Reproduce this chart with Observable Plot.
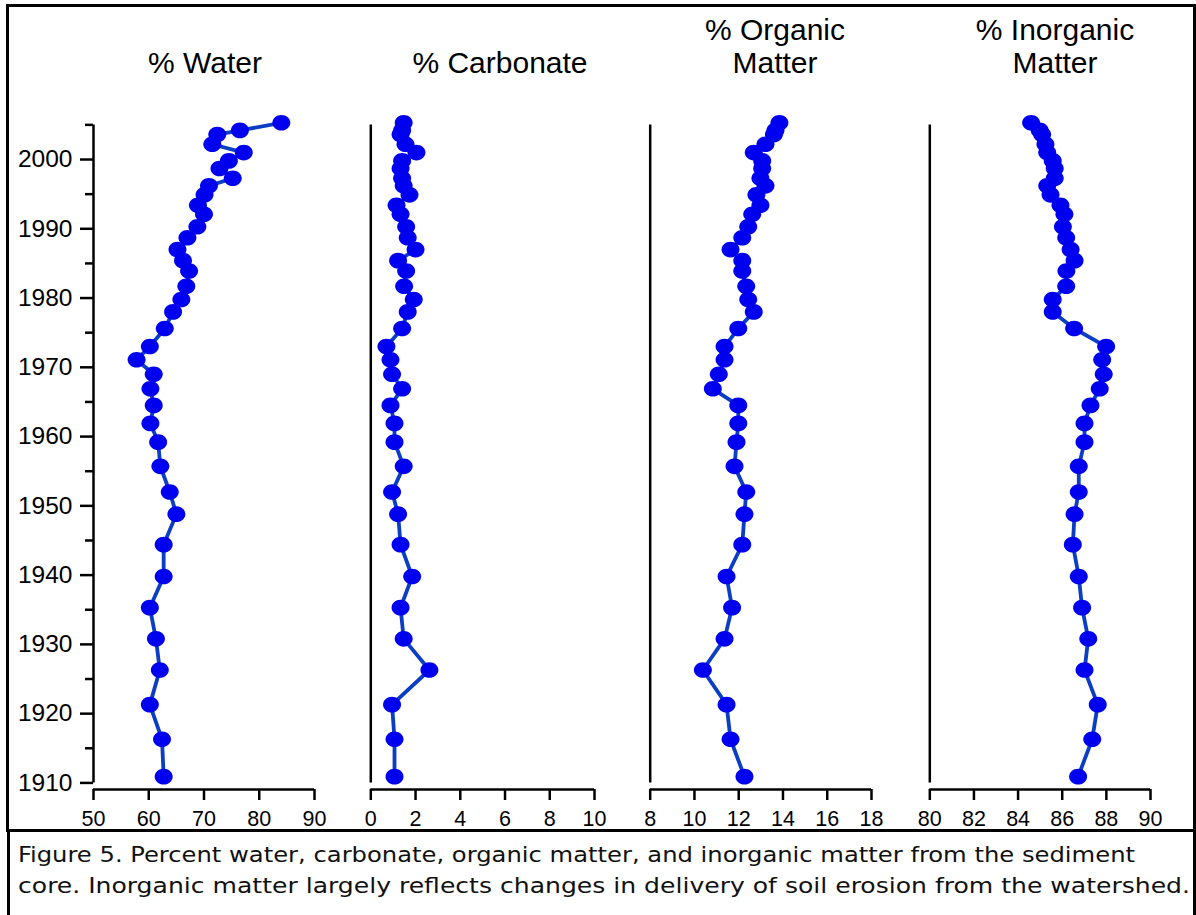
<!DOCTYPE html>
<html><head><meta charset="utf-8">
<script src="https://cdn.jsdelivr.net/npm/d3@7"></script>
<script src="https://cdn.jsdelivr.net/npm/@observablehq/plot@0.6"></script>
<style>
html,body{margin:0;padding:0;background:#fff;}
body{width:1196px;height:915px;overflow:hidden;position:relative;font-family:"Liberation Sans",Arial,sans-serif;}
.frame{position:absolute;border:3px solid #000;box-sizing:border-box;}
.title{position:absolute;font-size:30px;line-height:33px;text-align:center;color:#000;white-space:nowrap;transform:translateX(-50%);}
.panel{position:absolute;top:0;}
.panel svg{overflow:visible;}
</style></head><body>
<div class="frame" style="left:6px;top:4px;width:1190px;height:828px;"></div>
<div class="frame" style="left:7px;top:829px;width:1189px;height:110px;"></div>
<div id="root"></div>
<script>
// ---- data ----
const years = [2005.3, 2004.2, 2003.6, 2002.2, 2001.0, 1999.8, 1998.7, 1997.3, 1996.2, 1994.9,
  1993.4, 1992.1, 1990.3, 1988.7, 1987.0, 1985.4, 1983.9, 1981.7, 1979.8, 1978.0,
  1975.6, 1973.0, 1971.1, 1969.0, 1966.9, 1964.5, 1961.9, 1959.2, 1955.7, 1952.0,
  1948.8, 1944.4, 1939.8, 1935.3, 1930.8, 1926.3, 1921.3, 1916.3, 1910.9];
const water = [84.0, 76.5, 72.4, 71.5, 77.2, 74.5, 72.8, 75.2, 70.9, 70.1,
  68.9, 70.0, 68.8, 67.0, 65.2, 66.2, 67.3, 66.8, 65.9, 64.4,
  62.9, 60.2, 57.8, 60.9, 60.3, 60.9, 60.3, 61.7, 62.1, 63.8,
  65.0, 62.7, 62.7, 60.2, 61.3, 62.0, 60.2, 62.4, 62.7];
const carbonate = [1.47, 1.40, 1.33, 1.55, 2.04, 1.40, 1.33, 1.40, 1.47, 1.73,
  1.15, 1.33, 1.58, 1.65, 2.00, 1.22, 1.58, 1.49, 1.92, 1.65,
  1.40, 0.70, 0.88, 0.95, 1.40, 0.88, 1.06, 1.06, 1.47, 0.95,
  1.22, 1.33, 1.85, 1.33, 1.47, 2.62, 0.95, 1.06, 1.06];
const organic = [13.84, 13.66, 13.59, 13.21, 12.68, 13.06, 13.06, 12.98, 13.21, 12.80,
  12.98, 12.61, 12.43, 12.16, 11.63, 12.16, 12.16, 12.34, 12.43, 12.68,
  11.98, 11.36, 11.36, 11.10, 10.83, 11.98, 11.98, 11.90, 11.81, 12.34,
  12.26, 12.16, 11.45, 11.70, 11.36, 10.38, 11.45, 11.63, 12.26];
const inorganic = [84.59, 84.98, 85.09, 85.24, 85.32, 85.57, 85.66, 85.66, 85.32, 85.47,
  85.92, 86.10, 86.03, 86.18, 86.38, 86.56, 86.19, 86.18, 85.57, 85.57,
  86.54, 87.99, 87.81, 87.88, 87.70, 87.28, 87.01, 87.01, 86.75, 86.75,
  86.56, 86.48, 86.75, 86.90, 87.18, 87.01, 87.61, 87.36, 86.72];

const titles = [["% Water"], ["% Carbonate"], ["% Organic", "Matter"], ["% Inorganic", "Matter"]];
const xTicks = [[50, 60, 70, 80, 90], [0, 2, 4, 6, 8, 10], [8, 10, 12, 14, 16, 18], [80, 82, 84, 86, 88, 90]];
const yMajorTicks = [1910, 1920, 1930, 1940, 1950, 1960, 1970, 1980, 1990, 2000];
const yMinorTicks = [1915, 1925, 1935, 1945, 1955, 1965, 1975, 1985, 1995, 2005];
const yearRange = [1910, 2005];
const caption = [
  "Figure 5. Percent water, carbonate, organic matter, and inorganic matter from the sediment",
  "core. Inorganic matter largely reflects changes in delivery of soil erosion from the watershed."
];
const seriesValues = [water, carbonate, organic, inorganic];

// ---- layout ----
const layout = [
  {left: 0,   width: 330, marginLeft: 93,   marginRight: 16, titleX: 205, titleTop: [46]},
  {left: 340, width: 270, marginLeft: 30.3, marginRight: 16, titleX: 500, titleTop: [46]},
  {left: 620, width: 270, marginLeft: 29.7, marginRight: 19, titleX: 775, titleTop: [13, 46]},
  {left: 900, width: 280, marginLeft: 29.3, marginRight: 30, titleX: 1055, titleTop: [13, 46]}
];
const yDomain = [1909.05, 2005.2];
const H = 830;

const ellipse = {
  draw(ctx, size) {
    const r = Math.sqrt(size / Math.PI), rx = r * 1.07, ry = r * 0.93, k = 0.5523;
    ctx.moveTo(rx, 0);
    ctx.bezierCurveTo(rx, ry * k, rx * k, ry, 0, ry);
    ctx.bezierCurveTo(-rx * k, ry, -rx, ry * k, -rx, 0);
    ctx.bezierCurveTo(-rx, -ry * k, -rx * k, -ry, 0, -ry);
    ctx.bezierCurveTo(rx * k, -ry, rx, -ry * k, rx, 0);
    ctx.closePath();
  }
};

const root = document.getElementById("root");
seriesValues.forEach((vals, i) => {
  const L = layout[i];
  const ticks = xTicks[i];
  const data = years.map((y, j) => ({year: y, value: vals[j]}));
  const xMin = ticks[0], xMax = ticks[ticks.length - 1];
  const marks = [
    Plot.ruleY([yDomain[0]], {stroke: "#000", strokeWidth: 2.5}),
    Plot.axisX({ticks, tickSize: 11, tickPadding: 10, fontSize: 21.5, label: null,
      strokeWidth: 2.5, tickFormat: d => String(d), fill: "#000"}),
    Plot.ruleX([xMin], {y1: yearRange[0], y2: yearRange[1], stroke: "#000", strokeWidth: 2.5})
  ];
  if (i === 0) {
    marks.push(
      Plot.axisY({ticks: yMajorTicks, tickSize: 13, tickPadding: 8, fontSize: 24.5, label: null,
        strokeWidth: 2.5, tickFormat: d => String(d), fill: "#000"}),
      Plot.axisY({ticks: yMinorTicks, tickSize: 8, label: null, strokeWidth: 2.5, tickFormat: () => ""})
    );
  }
  marks.push(
    Plot.line(data, {x: "value", y: "year", stroke: "#0b3ec4", strokeWidth: 3.8}),
    Plot.dot(data, {x: "value", y: "year", r: 8.4, symbol: ellipse, fill: "#0000f0", stroke: "none"})
  );
  const chart = Plot.plot({
    width: L.width, height: H,
    marginLeft: L.marginLeft, marginRight: L.marginRight, marginTop: 123, marginBottom: 41,
    x: {domain: [xMin, xMax], axis: null},
    y: {domain: yDomain, axis: null},
    style: {background: "transparent", overflow: "visible", color: "#000",
      fontFamily: '"Liberation Sans", Arial, sans-serif'},
    marks
  });
  const wrap = document.createElement("div");
  wrap.className = "panel";
  wrap.style.left = L.left + "px";
  wrap.appendChild(chart);
  root.appendChild(wrap);

  titles[i].forEach((t, k) => {
    const d = document.createElement("div");
    d.className = "title";
    d.style.left = L.titleX + "px";
    d.style.top = L.titleTop[k] + "px";
    d.textContent = t;
    root.appendChild(d);
  });
});

// caption
const ns = "http://www.w3.org/2000/svg";
const cap = document.createElementNS(ns, "svg");
cap.setAttribute("width", 1196);
cap.setAttribute("height", 86);
cap.style.position = "absolute";
cap.style.left = "0px";
cap.style.top = "829px";
const capLines = [{y: 33, len: 1117}, {y: 64, len: 1172}];
caption.forEach((t, k) => {
  const tx = document.createElementNS(ns, "text");
  tx.setAttribute("x", 18);
  tx.setAttribute("y", capLines[k].y);
  tx.setAttribute("textLength", capLines[k].len);
  tx.setAttribute("lengthAdjust", "spacingAndGlyphs");
  tx.setAttribute("font-family", '"DejaVu Sans Condensed", "DejaVu Sans", sans-serif');
  tx.setAttribute("font-size", 22);
  tx.setAttribute("fill", "#111");
  tx.textContent = t;
  cap.appendChild(tx);
});
document.body.appendChild(cap);
</script>
</body></html>
